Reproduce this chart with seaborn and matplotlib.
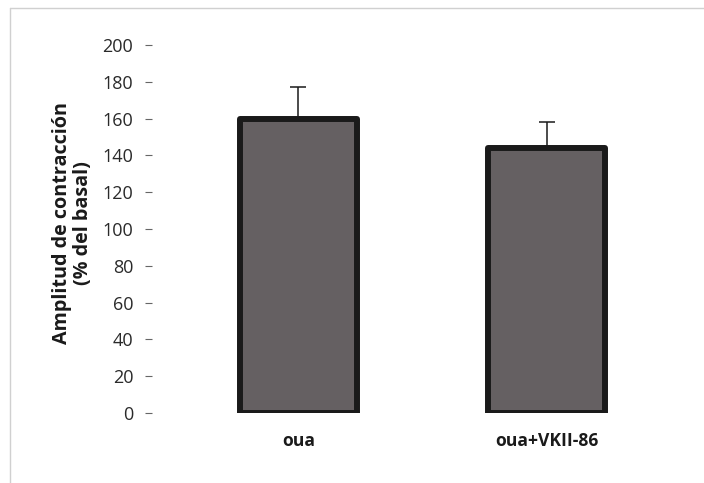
import matplotlib
matplotlib.use("Agg")
import matplotlib.pyplot as plt
import seaborn as sns
import pandas as pd
from matplotlib.lines import Line2D

# Contraction amplitude (% of basal) per treatment, with SEM
groups = ["oua", "oua+VKII-86"]
amplitude = [160, 144]
sem = [17, 14]
yticks = [0, 20, 40, 60, 80, 100, 120, 140, 160, 180, 200]

sns.set_theme(style="white")
plt.rcParams["font.family"] = ["Open Sans", "DejaVu Sans"]

df = pd.DataFrame({"grupo": groups, "amplitud": amplitude})

fig = plt.figure(figsize=(7.04, 4.83), dpi=100)
ax = fig.add_axes([0.2159, 0.1449, 0.7685, 0.7619])

sns.barplot(data=df, x="grupo", y="amplitud", ax=ax, color="#656062",
            width=0.47, errorbar=None, saturation=1,
            edgecolor="#1a1a1a", linewidth=4.3, zorder=2)
for p in ax.patches:
    p.set_joinstyle("round")

# upward-only error bars
ax.errorbar(x=range(len(groups)), y=amplitude,
            yerr=[[0] * len(sem), sem], fmt="none",
            ecolor="#1a1a1a", elinewidth=1.1, capsize=6, capthick=1.1,
            zorder=1)

ax.set_xlim(-0.59, 1.59)
ax.set_ylim(0, 200)
ax.set_yticks(yticks)
ax.set_yticklabels([str(v) for v in yticks], fontsize=13, color="#2a2a2a")
ax.tick_params(axis="y", which="major", left=True, length=5, width=0.8,
               color="#666666", pad=8.5, direction="out")
ax.tick_params(axis="x", length=0, pad=14)
for lbl in ax.get_xticklabels():
    lbl.set_fontweight("bold")
    lbl.set_fontsize(12.6)
    lbl.set_color("#1a1a1a")

for s in ax.spines.values():
    s.set_visible(False)

ax.set_xlabel("")
ax.set_ylabel("Amplitud de contracción\n(% del basal)", fontsize=14.2,
              fontweight="bold", color="#1a1a1a", linespacing=1.05)
ax.yaxis.set_label_coords(-0.109, 0.515)

# light frame lines along top and left
fig.add_artist(Line2D([10 / 704, 1], [1 - 8 / 483, 1 - 8 / 483],
                      transform=fig.transFigure, color="#d0d0d0", lw=1))
fig.add_artist(Line2D([10 / 704, 10 / 704], [0, 1 - 8 / 483],
                      transform=fig.transFigure, color="#d0d0d0", lw=1))

fig.savefig("out.png", dpi=100)
